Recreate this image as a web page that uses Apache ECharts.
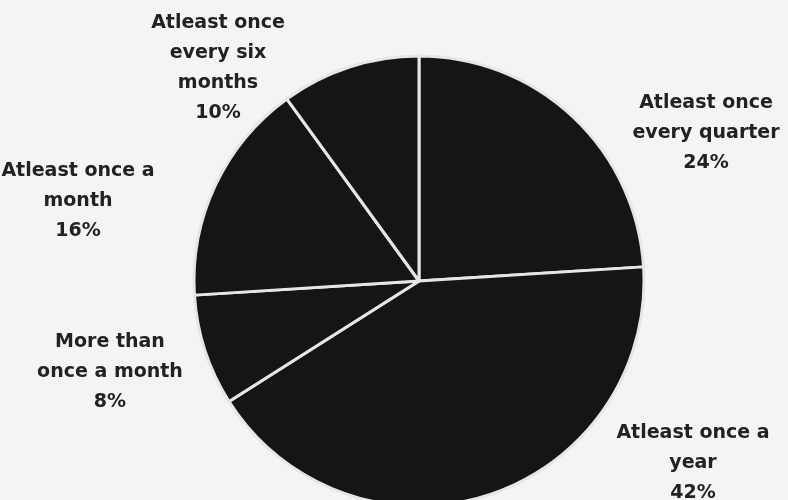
<!DOCTYPE html>
<html>
<head>
<meta charset="utf-8">
<script src="https://cdn.jsdelivr.net/npm/echarts@6/dist/echarts.min.js"></script>
<style>
html,body{margin:0;padding:0;background:#f4f4f2;}
#chart{width:788px;height:500px;}
</style>
</head>
<body>
<div id="chart"></div>
<script>
var categories = [
  "Atleast once\nevery quarter",
  "Atleast once a\nyear",
  "More than\nonce a month",
  "Atleast once a\nmonth",
  "Atleast once\nevery six\nmonths"
];
var values = [24, 42, 8, 16, 10];
// label anchor points (pixel centres of each text block)
var labelPos = [[706, 133], [693, 463], [110, 372], [78, 201], [218, 68]];

var chart = echarts.init(document.getElementById('chart'));
chart.setOption({
  backgroundColor: '#f4f4f2',
  animation: false,
  series: [{
    type: 'pie',
    center: [419, 281],
    radius: 225,
    startAngle: 90,
    clockwise: true,
    avoidLabelOverlap: false,
    itemStyle: { color: '#151515', borderColor: '#e6e6e6', borderWidth: 3 },
    emphasis: { disabled: true },
    label: {
      show: true,
      position: 'outside',
      formatter: function (p) { return p.name + '\n' + p.value + '%'; },
      fontFamily: 'DejaVu Sans',
      fontWeight: 'bold',
      fontSize: 19,
      lineHeight: 30,
      color: '#222',
      align: 'center'
    },
    labelLine: { show: false },
    labelLayout: function (params) {
      var p = labelPos[params.dataIndex];
      return { x: p[0], y: p[1], align: 'center', verticalAlign: 'middle' };
    },
    data: categories.map(function (c, i) { return { name: c, value: values[i] }; })
  }]
});
</script>
</body>
</html>
